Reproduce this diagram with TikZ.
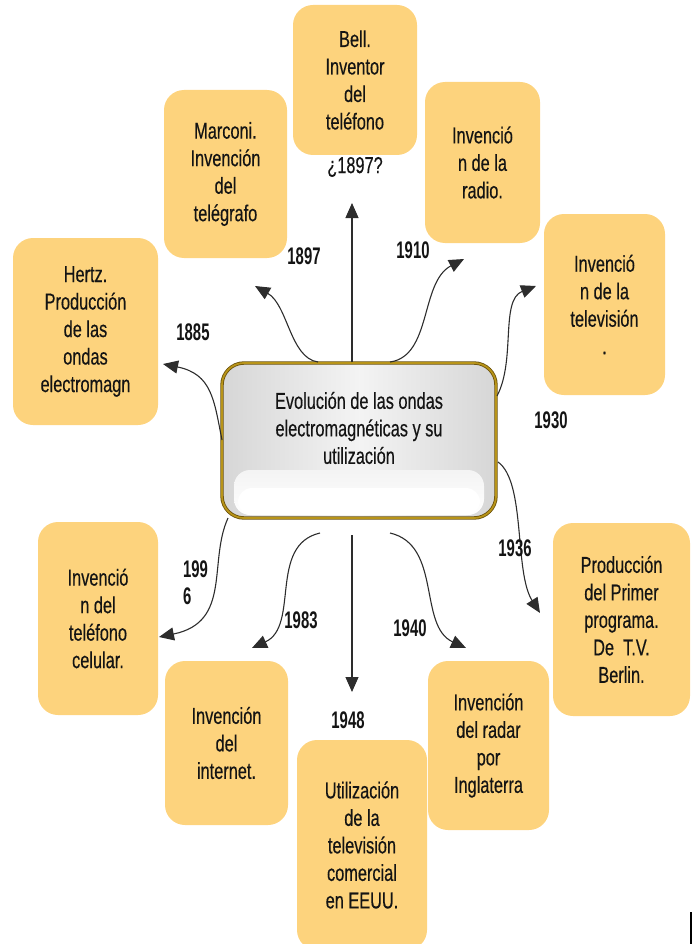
\documentclass[tikz,border=0pt]{standalone}
\usepackage{fontspec}
\setmainfont[FakeStretch=0.71,FakeBold=0.35]{Liberation Sans}
\newfontfamily\yearfont[FakeStretch=0.62]{Liberation Sans}
\usetikzlibrary{arrows.meta}
\definecolor{cardfill}{RGB}{253,211,125}
\definecolor{goldb}{RGB}{184,148,24}
\definecolor{goldd}{RGB}{105,80,10}
\definecolor{ink}{RGB}{20,20,20}
\definecolor{arrowc}{RGB}{45,45,45}
\tikzset{
  card/.style={rectangle, rounded corners=20pt, fill=cardfill, draw=none, align=center,
    inner sep=0pt, outer sep=0pt, text=ink, font=\fontsize{23}{27.5}\selectfont},
  yearlab/.style={text=ink, font=\yearfont\bfseries\fontsize{24}{27}\selectfont, inner sep=0pt},
  plainlab/.style={text=ink, font=\fontsize{23}{27.5}\selectfont, inner sep=0pt},
  conn/.style={draw=arrowc, line width=1.1pt, -{Triangle[length=15pt,width=13pt]}},
}
\begin{document}
\begin{tikzpicture}[x=1pt,y=-1pt]
\useasboundingbox (0,0) rectangle (694,944);
\clip (0,0) rectangle (694,944);
% cards
\node[card, minimum width=124pt, minimum height=150pt] (bell) at (355,80) {Bell.\\Inventor\\del\\teléfono};
\node[card, minimum width=123pt, minimum height=168pt] (marconi) at (225.5,174) {Marconi.\\Invención\\del\\telégrafo};
\node[card, minimum width=115pt, minimum height=161pt] (radio) at (482.5,162.5) {Invenció\\n de la\\radio.};
\node[card, minimum width=145pt, minimum height=187pt] (hertz) at (85.5,331.5) {Hertz.\\Producción\\de las\\ondas\\electromagn};
\node[card, minimum width=121pt, minimum height=181pt] (tv) at (604.5,304.5) {Invenció\\n de la\\televisión\\.};
\node[card, minimum width=137pt, minimum height=193pt] (prod) at (621.5,619.5) {Producción\\del Primer\\programa.\\De\ \ T.V.\\Berlin.};
\node[card, minimum width=120pt, minimum height=193pt] (celular) at (98,618.5) {Invenció\\n del\\teléfono\\celular.};
\node[card, minimum width=123pt, minimum height=164pt] (internet) at (226.5,743) {Invención\\del\\internet.};
\node[card, minimum width=121pt, minimum height=169pt] (radar) at (488.5,745.5) {Invención\\del radar\\por\\Inglaterra};
\node[card, minimum width=130pt, minimum height=210pt] (util) at (362,845) {Utilización\\de la\\televisión\\comercial\\en EEUU.};
% central box
\node[rectangle, rounded corners=22pt, minimum width=274pt, minimum height=155pt, inner sep=0pt, outer sep=0pt,
  left color=gray!32, right color=gray!32, middle color=gray!9] (c) at (359,440.5) {};
\shade[rounded corners=16pt, top color=gray!9, bottom color=white] (234,470) rectangle (484,515);
\fill[white, rounded corners=14pt] (238,488) rectangle (480,515);
\draw[goldd, line width=3.4pt, rounded corners=22pt] (c.north west) rectangle (c.south east);
\draw[goldb, line width=1.8pt, rounded corners=22pt] (c.north west) rectangle (c.south east);
\node[align=center, text=ink, font=\fontsize{23}{27.5}\selectfont, inner sep=0pt] (title) at (359,428)
  {Evolución de las ondas\\electromagnéticas y su\\utilización};
% connector endpoints
\coordinate (s1) at (352,362);   \coordinate (t1) at (352,203);
\coordinate (s2) at (318,362);   \coordinate (t2) at (255,286);
\coordinate (s3) at (390,362);   \coordinate (t3) at (464,259);
\coordinate (s4) at (497,396);   \coordinate (t4) at (536,286);
\coordinate (s5) at (498,462);   \coordinate (t5) at (540,613);
\coordinate (s6) at (222,440);   \coordinate (t6) at (163,364);
\coordinate (s7) at (228,518);   \coordinate (t7) at (159,637);
\coordinate (s8) at (320,533);   \coordinate (t8) at (252,648);
\coordinate (s9) at (352,535);   \coordinate (t9) at (352,692);
\coordinate (s10) at (390,533);  \coordinate (t10) at (466,648);
% connectors
\draw[conn] (s1) -- (t1);
\draw[conn] (s2) .. controls (290,358) and (288,305) .. (t2);
\draw[conn] (s3) .. controls (432,356) and (420,282) .. (t3);
\draw[conn] (s4) .. controls (516,360) and (500,300) .. (t4);
\draw[conn] (s5) .. controls (526,482) and (514,572) .. (t5);
\draw[conn] (s6) .. controls (214,400) and (212,374) .. (t6);
\draw[conn] (s7) .. controls (208,562) and (232,622) .. (t7);
\draw[conn] (s8) .. controls (268,545) and (300,626) .. (t8);
\draw[conn] (s9) -- (t9);
\draw[conn] (s10) .. controls (442,545) and (418,626) .. (t10);
% labels
\node[plainlab] (q1897) at (355,167) {¿1897?};
\node[yearlab] (y1897) at (304,256) {1897};
\node[yearlab] (y1910) at (413,250) {1910};
\node[yearlab] (y1885) at (193,332) {1885};
\node[yearlab] (y1930) at (551,420) {1930};
\node[yearlab] (y1936) at (515,548) {1936};
\node[yearlab, align=left, anchor=north west] (y1996) at (183,561) {199\\6};
\node[yearlab] (y1983) at (301,620) {1983};
\node[yearlab] (y1948) at (348,720) {1948};
\node[yearlab] (y1940) at (410,628) {1940};
% small mark bottom right
\coordinate (m1) at (691,912); \coordinate (m2) at (691,944);
\draw[black, line width=1.5pt] (m1) -- (m2);
\end{tikzpicture}
\end{document}
